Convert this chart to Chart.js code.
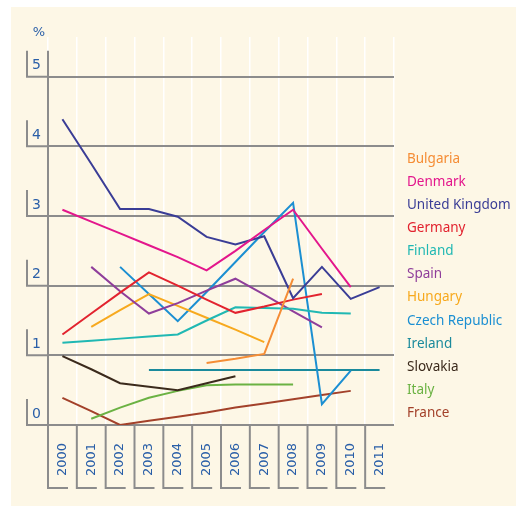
<!DOCTYPE html>
<html>
<head>
<meta charset="utf-8">
<script src="https://cdn.jsdelivr.net/npm/chart.js@4"></script>
<style>
  body { margin: 0; background: #fff; }
</style>
</head>
<body>
<canvas id="myChart" width="516" height="506"></canvas>
<script>
var years = ['2000', '2001', '2002', '2003', '2004', '2005', '2006', '2007', '2008', '2009', '2010', '2011'];
var yTicks = [0, 1, 2, 3, 4, 5];

var bulgaria = [null, null, null, null, null, 0.89, 0.95, 1.02, 2.10, null, null, null];
var denmark = [3.09, 2.92, 2.75, 2.58, 2.41, 2.22, 2.50, 2.80, 3.09, 2.53, 1.98, null];
var unitedKingdom = [4.39, 3.75, 3.10, 3.10, 2.99, 2.70, 2.59, 2.71, 1.82, 2.27, 1.81, 1.98];
var germany = [1.30, 1.60, 1.90, 2.19, 2.00, 1.80, 1.61, 1.70, 1.80, 1.88, null, null];
var finland = [1.18, 1.21, 1.24, 1.27, 1.30, 1.50, 1.69, 1.68, 1.67, 1.61, 1.60, null];
var spain = [null, 2.27, 1.92, 1.60, 1.75, 1.93, 2.10, 1.87, 1.63, 1.40, null, null];
var hungary = [null, 1.41, 1.65, 1.88, 1.71, 1.54, 1.37, 1.19, null, null, null, null];
var czechRepublic = [null, null, 2.27, 1.88, 1.49, 1.91, 2.34, 2.77, 3.19, 0.30, 0.78, null];
var ireland = [null, null, null, 0.79, 0.79, 0.79, 0.79, 0.79, 0.79, 0.79, 0.79, 0.79];
var slovakia = [0.99, 0.80, 0.60, 0.55, 0.50, 0.60, 0.70, null, null, null, null, null];
var italy = [null, 0.09, 0.25, 0.39, 0.49, 0.57, 0.58, 0.58, 0.58, null, null, null];
var france = [0.39, 0.20, 0.00, 0.06, 0.12, 0.18, 0.25, 0.31, 0.37, 0.43, 0.49, null];

var gray = '#8c8c8c';
var blue = '#2a5fa8';

function series(label, data, color) {
    return {
        label: label,
        data: data,
        borderColor: color,
        backgroundColor: color,
        borderWidth: 2,
        pointRadius: 0,
        tension: 0,
        fill: false
    };
}

// frame: cream panel, bracket ticks, label boxes, % sign and text legend
var framePlugin = {
    id: 'frame',
    beforeDraw: function(chart) {
        var c = chart.ctx;
        c.save();
        c.fillStyle = '#fff';
        c.fillRect(0, 0, chart.width, chart.height);
        c.fillStyle = '#fdf7e6';
        c.fillRect(11, 7, chart.width - 11, chart.height - 7);
        c.restore();
    },
    beforeDatasetsDraw: function(chart) {
        var c = chart.ctx;
        var area = chart.chartArea;
        var y = chart.scales.y;
        var x = chart.scales.x;
        c.save();
        c.strokeStyle = gray;
        c.lineWidth = 2;
        c.beginPath();
        // y brackets
        yTicks.forEach(function(v) {
            var py = y.getPixelForValue(v);
            c.moveTo(27, py - 26);
            c.lineTo(27, py);
            c.lineTo(area.left, py);
        });
        // y axis line
        c.moveTo(area.left, y.getPixelForValue(5) - 26);
        c.lineTo(area.left, area.bottom);
        // x label boxes
        var w = (area.right - area.left) / years.length;
        years.forEach(function(yr, i) {
            var px = area.left + i * w;
            c.moveTo(px, area.bottom);
            c.lineTo(px, area.bottom + 63);
            c.lineTo(px + 20, area.bottom + 63);
        });
        c.stroke();
        c.fillStyle = blue;
        c.font = '13px "DejaVu Sans"';
        c.textAlign = 'center';
        c.textBaseline = 'middle';
        c.fillText('%', 39, 33);
        c.restore();
    },
    afterDraw: function(chart) {
        var c = chart.ctx;
        c.save();
        c.font = '13.5px "Noto Sans"';
        c.textAlign = 'left';
        c.textBaseline = 'middle';
        chart.data.datasets.forEach(function(ds, i) {
            c.fillStyle = ds.borderColor;
            c.fillText(ds.label, 407, 159 + i * 23.1);
        });
        c.restore();
    }
};

var ctx = document.getElementById('myChart').getContext('2d');

var myChart = new Chart(ctx, {
    type: 'line',
    data: {
        labels: years,
        datasets: [
            series('Bulgaria', bulgaria, '#f58d35'),
            series('Denmark', denmark, '#e3168c'),
            series('United Kingdom', unitedKingdom, '#3a3d96'),
            series('Germany', germany, '#e2232f'),
            series('Finland', finland, '#20b8b3'),
            series('Spain', spain, '#8f3e9b'),
            series('Hungary', hungary, '#f7a91e'),
            series('Czech Republic', czechRepublic, '#1b8fd2'),
            series('Ireland', ireland, '#1a8a9c'),
            series('Slovakia', slovakia, '#3b2a1c'),
            series('Italy', italy, '#6bb243'),
            series('France', france, '#a3412a')
        ]
    },
    options: {
        responsive: false,
        animation: false,
        layout: {
            padding: { left: 11, right: 122, top: 37, bottom: 0 }
        },
        plugins: {
            legend: { display: false },
            tooltip: { enabled: false }
        },
        scales: {
            x: {
                offset: true,
                afterFit: function(s) { s.height = 81; },
                border: { display: false },
                grid: {
                    offset: true,
                    color: '#ffffff',
                    lineWidth: 1.5,
                    drawTicks: false
                },
                ticks: {
                    autoSkip: false,
                    minRotation: 90,
                    maxRotation: 90,
                    padding: 18,
                    color: blue,
                    font: { family: 'DejaVu Sans', size: 13 }
                }
            },
            y: {
                min: 0,
                max: 5.57,
                afterFit: function(s) { s.width = 37; },
                afterBuildTicks: function(s) {
                    s.ticks = yTicks.map(function(v) { return { value: v }; });
                },
                border: { display: false },
                grid: {
                    color: gray,
                    lineWidth: 2,
                    drawTicks: false
                },
                ticks: {
                    padding: 7,
                    labelOffset: -11,
                    color: blue,
                    font: { family: 'DejaVu Sans', size: 14 }
                }
            }
        }
    },
    plugins: [framePlugin]
});
</script>
</body>
</html>
